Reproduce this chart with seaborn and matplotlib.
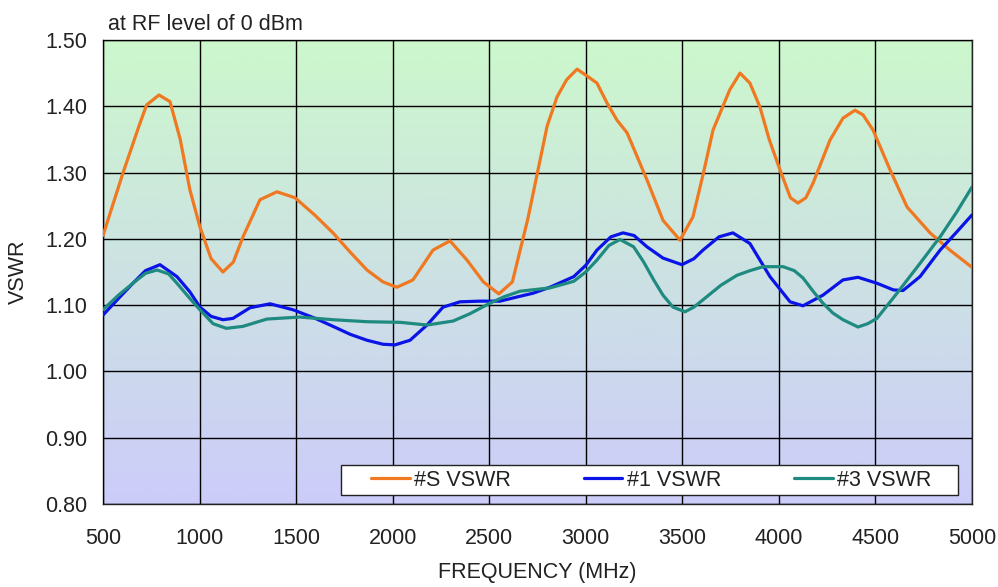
import numpy as np
import pandas as pd
import matplotlib
matplotlib.use("Agg")
import matplotlib.pyplot as plt
import seaborn as sns
from matplotlib.colors import LinearSegmentedColormap
from matplotlib.patches import Rectangle

# values
freq_s = [500, 603, 685, 726, 790, 847, 900, 950, 1002, 1060, 1121, 1175, 1225, 1313, 1401,
          1494, 1600, 1691, 1780, 1867, 1950, 2022, 2105, 2209, 2297, 2385, 2470, 2550,
          2620, 2700, 2750, 2800, 2851, 2901, 2955, 3005, 3058, 3110, 3162, 3214, 3317,
          3400, 3488, 3555, 3610, 3659, 3746, 3799, 3850, 3902, 3950, 4006, 4060, 4099,
          4140, 4177, 4265, 4332, 4394, 4436, 4488, 4576, 4664, 4783, 4886, 5000]
vswr_s = [1.205, 1.299, 1.369, 1.402, 1.417, 1.407, 1.350, 1.274, 1.218, 1.170, 1.150, 1.165,
          1.203, 1.259, 1.271, 1.262, 1.235, 1.209, 1.180, 1.153, 1.135, 1.127, 1.138,
          1.183, 1.197, 1.168, 1.135, 1.117, 1.135, 1.230, 1.300, 1.370, 1.414, 1.440,
          1.456, 1.446, 1.435, 1.405, 1.379, 1.360, 1.289, 1.228, 1.198, 1.233, 1.300,
          1.364, 1.425, 1.450, 1.435, 1.399, 1.350, 1.304, 1.262, 1.254, 1.262, 1.284,
          1.349, 1.382, 1.394, 1.387, 1.364, 1.304, 1.248, 1.209, 1.183, 1.157]

freq_1 = [500, 580, 655, 720, 795, 883, 950, 1002, 1060, 1121, 1173, 1261, 1365, 1484,
          1600, 1691, 1780, 1867, 1950, 2012, 2090, 2178, 2261, 2349, 2450, 2556, 2640,
          2727, 2815, 2938, 3000, 3058, 3130, 3193, 3250, 3317, 3400, 3498, 3560, 3607,
          3690, 3762, 3850, 3954, 4058, 4125, 4228, 4332, 4410, 4508, 4593, 4643, 4731,
          4835, 4920, 5000]
vswr_1 = [1.085, 1.110, 1.133, 1.152, 1.161, 1.143, 1.120, 1.097, 1.083, 1.078, 1.080,
          1.096, 1.102, 1.093, 1.080, 1.068, 1.056, 1.047, 1.041, 1.040, 1.047, 1.070,
          1.097, 1.105, 1.106, 1.106, 1.112, 1.118, 1.127, 1.143, 1.160, 1.183, 1.203,
          1.209, 1.205, 1.188, 1.171, 1.161, 1.170, 1.183, 1.203, 1.209, 1.193, 1.143,
          1.105, 1.099, 1.115, 1.138, 1.142, 1.133, 1.123, 1.122, 1.143, 1.183, 1.210,
          1.236]

freq_3 = [500, 580, 655, 720, 780, 840, 883, 950, 1002, 1070, 1139, 1225, 1349, 1519,
          1691, 1867, 2040, 2178, 2313, 2400, 2504, 2580, 2660, 2815, 2938, 3000, 3058,
          3120, 3177, 3248, 3300, 3352, 3400, 3452, 3514, 3560, 3607, 3700, 3783, 3850,
          3919, 4022, 4080, 4125, 4180, 4228, 4280, 4332, 4410, 4460, 4508, 4612, 4731,
          4835, 4920, 5000]
vswr_3 = [1.093, 1.115, 1.133, 1.148, 1.153, 1.147, 1.133, 1.110, 1.093, 1.072, 1.065,
          1.068, 1.079, 1.082, 1.078, 1.075, 1.074, 1.070, 1.076, 1.087, 1.103, 1.113,
          1.121, 1.126, 1.136, 1.150, 1.168, 1.190, 1.199, 1.188, 1.165, 1.138, 1.115,
          1.097, 1.090, 1.097, 1.108, 1.130, 1.145, 1.152, 1.158, 1.158, 1.152, 1.141,
          1.120, 1.103, 1.088, 1.078, 1.067, 1.072, 1.080, 1.118, 1.163, 1.203, 1.240,
          1.278]

labels = ["#S VSWR", "#1 VSWR", "#3 VSWR"]
colors = ["#f07820", "#0a14e6", "#1f8a80"]

df = pd.concat([
    pd.DataFrame({"freq": freq_s, "vswr": vswr_s, "series": labels[0]}),
    pd.DataFrame({"freq": freq_1, "vswr": vswr_1, "series": labels[1]}),
    pd.DataFrame({"freq": freq_3, "vswr": vswr_3, "series": labels[2]}),
], ignore_index=True)

sns.set_style("white")
plt.rcParams["font.family"] = ["Liberation Sans", "DejaVu Sans"]
FS = 15.5
TXT = "#222222"

fig = plt.figure(figsize=(9.98, 5.87), dpi=100)
ax = fig.add_axes([0.1032, 0.1414, 0.8707, 0.7905])

# gradient background: green at top to lavender at bottom
bg = LinearSegmentedColormap.from_list("bg", ["#ccccfa", "#ccf8cc"])
ax.imshow(np.linspace(0, 1, 256).reshape(-1, 1), cmap=bg, origin="lower",
          extent=[500, 5000, 0.8, 1.5], aspect="auto", zorder=0)

sns.lineplot(data=df, x="freq", y="vswr", hue="series", palette=dict(zip(labels, colors)),
             estimator=None, linewidth=2.3, ax=ax, zorder=3)

ax.set_xlim(500, 5000)
ax.set_ylim(0.8, 1.5)
ax.set_xticks(np.arange(500, 5001, 500))
ax.set_yticks(np.arange(0.8, 1.501, 0.1))
ax.set_yticklabels([f"{v:.2f}" for v in np.arange(0.8, 1.501, 0.1)])
ax.grid(True, color="black", linewidth=1.0, zorder=1)
ax.set_axisbelow(False)
for sp in ax.spines.values():
    sp.set_color(TXT)
    sp.set_linewidth(1.0)
ax.tick_params(axis="both", direction="out", length=5, width=1, color=TXT,
               labelsize=FS, labelcolor=TXT, pad=6)
ax.tick_params(axis="x", pad=12)

ax.set_xlabel("FREQUENCY (MHz)", fontsize=FS, color=TXT, labelpad=10)
ax.set_ylabel("VSWR", fontsize=FS, color=TXT, labelpad=12)
ax.text(0.006, 1.01, "at RF level of 0 dBm", transform=ax.transAxes, fontsize=FS,
        color=TXT, ha="left", va="bottom")

# legend box drawn separately so the entries can sit centred inside it
ax.add_patch(Rectangle((0.274, 0.019), 0.710, 0.065, transform=ax.transAxes,
                       facecolor="white", edgecolor=TXT, linewidth=1.0, zorder=4))
handles, _ = ax.get_legend_handles_labels()
leg = ax.legend(handles, labels, loc="center", bbox_to_anchor=(0.631, 0.0515),
                ncol=3, fontsize=FS, frameon=False, handlelength=1.78,
                handletextpad=0.2, columnspacing=3.4, borderpad=0, borderaxespad=0)
leg.set_zorder(5)
for t in leg.get_texts():
    t.set_color(TXT)

plt.savefig("out.png", dpi=100)
